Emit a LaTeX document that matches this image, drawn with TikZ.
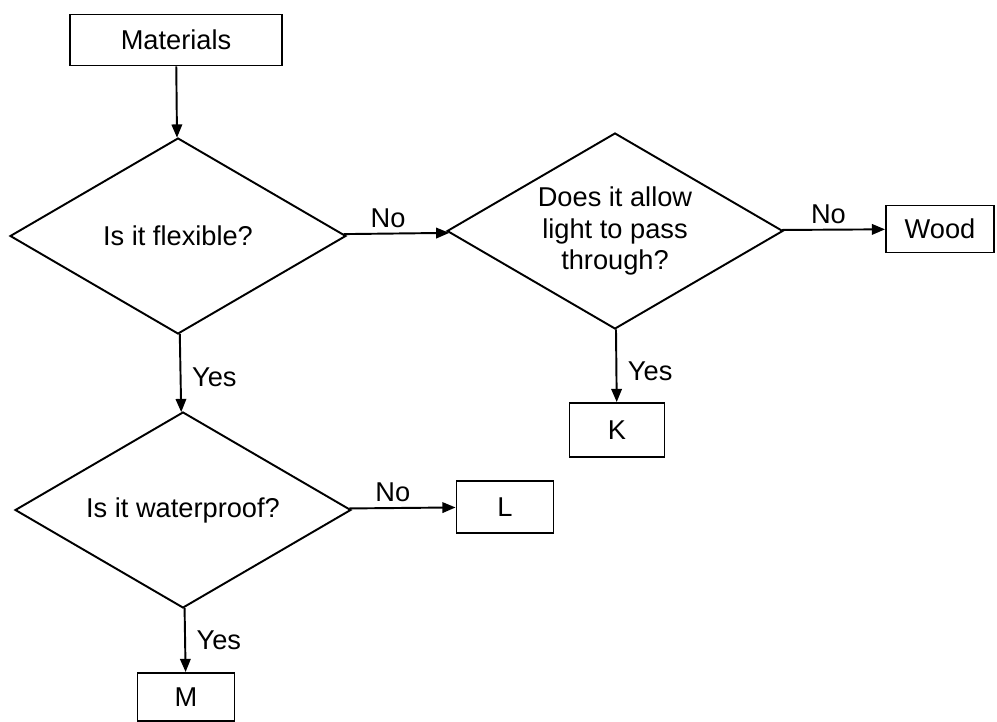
\documentclass[tikz,border=0pt]{standalone}
\usepackage{fontspec}
\setmainfont{Liberation Sans}
\usetikzlibrary{shapes.geometric}
\usetikzlibrary{arrows.meta}

\begin{document}
\begin{tikzpicture}[
  x=0.02cm, y=-0.02cm,
  every node/.style={font=\fontsize{15.5}{18}\selectfont},
  box/.style={rectangle, draw, line width=1.1pt, inner sep=0pt},
  question/.style={diamond, draw, line width=1.1pt, aspect=1.714, inner sep=0pt,
    minimum width=6.72cm, minimum height=3.92cm, align=center},
  flow/.style={-{Triangle[length=7.5pt, width=6pt]}, line width=1.1pt},
  answer/.style={inner sep=3pt},
]
\useasboundingbox (0,0) rectangle (997,722);

  % Nodes
  \node[box, minimum width=4.24cm, minimum height=1.02cm] (mat) at (176, 40) {Materials};
  \node[question] (flex)  at (178, 236) {Is it flexible?};
  \node[question] (light) at (615, 231) {Does it allow\\light to pass\\through?};
  \node[box, minimum width=2.16cm, minimum height=0.94cm] (wood) at (940, 229) {Wood};
  \node[box, minimum width=1.9cm, minimum height=1.08cm]  (k) at (617, 430) {K};
  \node[question] (water) at (183, 510) {Is it waterproof?};
  \node[box, minimum width=1.94cm, minimum height=1.04cm] (l) at (505, 507) {L};
  \node[box, minimum width=1.94cm, minimum height=0.96cm] (m) at (186, 697) {M};

  % Edges
  \draw[flow] (mat) -- (flex);
  \draw[flow] (flex) -- node[answer, above, pos=0.42] {No} (light);
  \draw[flow] (light) -- node[answer, above, pos=0.45] {No} (wood);
  \draw[flow] (light) -- node[answer, right=3pt, pos=0.58] {Yes} (k);
  \draw[flow] (flex) -- node[answer, right=3pt, pos=0.55] {Yes} (water);
  \draw[flow] (water) -- node[answer, above, pos=0.41] {No} (l);
  \draw[flow] (water) -- node[answer, right=3pt, pos=0.5] {Yes} (m);

\end{tikzpicture}
\end{document}
